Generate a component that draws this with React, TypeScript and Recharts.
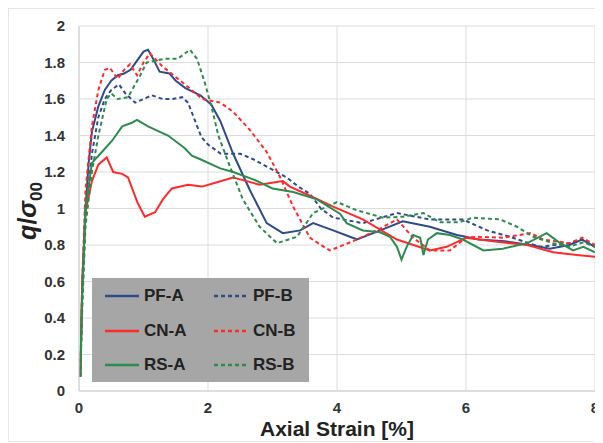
import { LineChart, Line, XAxis, YAxis, CartesianGrid } from "recharts";

// strain [%], q / sigma00
const pfA = [
  [0.02, 0.08], [0.05, 0.55], [0.1, 1.0], [0.15, 1.25], [0.2, 1.42], [0.3, 1.56], [0.4, 1.65], [0.5, 1.7],
  [0.6, 1.73], [0.7, 1.74], [0.8, 1.76], [0.9, 1.81], [1.0, 1.86], [1.07, 1.87], [1.15, 1.82], [1.25, 1.75],
  [1.4, 1.74], [1.5, 1.7], [1.65, 1.66], [1.88, 1.62], [2.05, 1.57], [2.19, 1.48], [2.39, 1.3], [2.65, 1.1],
  [2.91, 0.92], [3.16, 0.865], [3.43, 0.88], [3.63, 0.92], [3.94, 0.88], [4.2, 0.845], [4.31, 0.83],
  [4.67, 0.88], [5.02, 0.93], [5.44, 0.9], [5.86, 0.855], [6.2, 0.83], [6.6, 0.82], [7.0, 0.8], [7.3, 0.78],
  [7.6, 0.8], [7.8, 0.83], [8.0, 0.79],
];
const pfB = [
  [0.02, 0.08], [0.05, 0.5], [0.1, 0.95], [0.2, 1.3], [0.3, 1.5], [0.4, 1.6], [0.5, 1.65], [0.62, 1.68],
  [0.72, 1.63], [0.87, 1.58], [1.0, 1.6], [1.13, 1.62], [1.3, 1.6], [1.45, 1.6], [1.6, 1.61], [1.69, 1.58],
  [1.8, 1.48], [1.9, 1.39], [2.0, 1.35], [2.2, 1.3], [2.5, 1.3], [2.7, 1.27], [2.91, 1.23], [3.22, 1.17],
  [3.4, 1.12], [3.58, 1.08], [3.75, 1.0], [3.94, 0.95], [4.4, 0.92], [4.93, 0.975], [5.44, 0.94],
  [5.95, 0.94], [6.33, 0.88], [6.68, 0.845], [7.15, 0.79], [7.6, 0.81], [7.8, 0.83], [8.0, 0.79],
];
const cnA = [
  [0.02, 0.08], [0.05, 0.6], [0.1, 0.98], [0.2, 1.15], [0.3, 1.24], [0.43, 1.28], [0.53, 1.2], [0.67, 1.19],
  [0.76, 1.17], [0.91, 1.03], [1.02, 0.955], [1.18, 0.98], [1.3, 1.05], [1.44, 1.11], [1.69, 1.13],
  [1.91, 1.12], [2.1, 1.14], [2.39, 1.17], [2.6, 1.15], [2.8, 1.13], [3.16, 1.15], [3.27, 1.12], [3.58, 1.07],
  [3.94, 1.01], [4.4, 0.94], [4.93, 0.83], [5.44, 0.77], [5.7, 0.79], [6.0, 0.84], [6.42, 0.82], [6.95, 0.8],
  [7.35, 0.76], [7.72, 0.745], [8.0, 0.735],
];
const cnB = [
  [0.02, 0.08], [0.05, 0.6], [0.1, 1.1], [0.2, 1.45], [0.3, 1.65], [0.4, 1.76], [0.48, 1.77], [0.6, 1.71],
  [0.7, 1.76], [0.79, 1.79], [0.9, 1.73], [1.0, 1.8], [1.1, 1.85], [1.29, 1.78], [1.64, 1.68], [1.91, 1.6],
  [2.19, 1.58], [2.39, 1.53], [2.65, 1.43], [2.91, 1.31], [3.12, 1.17], [3.32, 1.01], [3.58, 0.84],
  [3.84, 0.78], [3.89, 0.77], [4.31, 0.83], [4.67, 0.89], [4.93, 0.94], [5.18, 0.84], [5.44, 0.77],
  [5.75, 0.77], [6.0, 0.84], [6.17, 0.845], [6.57, 0.84], [7.0, 0.865], [7.2, 0.83], [7.6, 0.81],
  [7.8, 0.84], [8.0, 0.8],
];
const rsA = [
  [0.02, 0.08], [0.05, 0.55], [0.1, 1.0], [0.2, 1.25], [0.33, 1.3], [0.51, 1.37], [0.67, 1.45], [0.82, 1.47],
  [0.9, 1.485], [1.07, 1.45], [1.38, 1.4], [1.64, 1.33], [1.75, 1.29], [1.88, 1.27], [2.19, 1.22], [2.39, 1.2],
  [2.7, 1.16], [3.0, 1.11], [3.32, 1.09], [3.69, 1.05], [4.05, 0.97], [4.15, 0.92], [4.4, 0.88], [4.67, 0.87],
  [4.82, 0.845], [4.93, 0.79], [5.0, 0.72], [5.08, 0.79], [5.18, 0.855], [5.29, 0.84], [5.34, 0.745],
  [5.41, 0.83], [5.55, 0.865], [5.75, 0.855], [5.95, 0.83], [6.27, 0.77], [6.57, 0.78], [6.95, 0.81],
  [7.25, 0.865], [7.46, 0.81], [7.66, 0.77], [7.82, 0.79], [8.0, 0.76],
];
const rsB = [
  [0.02, 0.08], [0.05, 0.45], [0.1, 0.9], [0.2, 1.2], [0.3, 1.4], [0.43, 1.6], [0.5, 1.63], [0.6, 1.6],
  [0.76, 1.61], [0.95, 1.73], [1.05, 1.8], [1.33, 1.82], [1.53, 1.82], [1.72, 1.87], [1.83, 1.82],
  [1.95, 1.69], [2.06, 1.55], [2.16, 1.4], [2.34, 1.23], [2.54, 1.05], [2.8, 0.9], [3.07, 0.81],
  [3.38, 0.845], [3.63, 0.975], [4.0, 1.035], [4.31, 0.99], [4.71, 0.95], [5.02, 0.955], [5.34, 0.975],
  [5.6, 0.925], [5.9, 0.925], [6.11, 0.95], [6.53, 0.94], [6.79, 0.9], [7.04, 0.845], [7.35, 0.81],
  [7.6, 0.79], [7.82, 0.815], [8.0, 0.79],
];

const xTicks = [0, 2, 4, 6, 8];
const yTicks = [0, 0.2, 0.4, 0.6, 0.8, 1, 1.2, 1.4, 1.6, 1.8, 2];

const BLUE = "#2f4b8c";
const RED = "#ff2a2a";
const GREEN = "#2e8b4e";
const DASH = "4 3";

const series = [
  { name: "PF-A", data: pfA, color: BLUE, dashed: false },
  { name: "PF-B", data: pfB, color: BLUE, dashed: true },
  { name: "CN-A", data: cnA, color: RED, dashed: false },
  { name: "CN-B", data: cnB, color: RED, dashed: true },
  { name: "RS-A", data: rsA, color: GREEN, dashed: false },
  { name: "RS-B", data: rsB, color: GREEN, dashed: true },
];

const FONT = "'Liberation Sans', Arial, sans-serif";

const toRows = (pts: number[][]) => pts.map(([x, y]) => ({ x, y }));

function LegendBox() {
  return (
    <div
      style={{
        position: "absolute",
        left: 84,
        top: 270,
        background: "#a6a6a6",
        width: 217,
        height: 104,
        display: "grid",
        gridTemplateColumns: "109px 108px",
        gridTemplateRows: "35px 35px 34px",
      }}
    >
      {series.map((s) => (
        <div
          key={s.name}
          style={{ display: "flex", alignItems: "center", paddingLeft: 13 }}
        >
          <svg width={34} height={6} style={{ marginRight: 5 }}>
            <line
              x1={0}
              y1={3}
              x2={34}
              y2={3}
              stroke={s.color}
              strokeWidth={2.5}
              strokeDasharray={s.dashed ? DASH : undefined}
            />
          </svg>
          <span
            style={{
              fontFamily: FONT,
              fontWeight: "bold",
              fontSize: 17,
              color: "#222",
            }}
          >
            {s.name}
          </span>
        </div>
      ))}
    </div>
  );
}

export default function App() {
  return (
    <div style={{ position: "relative", width: 594, height: 434, background: "#fff" }}>
      <LineChart
        width={594}
        height={434}
        margin={{ top: 18, right: 7, bottom: 19, left: 31 }}
        style={{ fontFamily: FONT }}
      >
        <CartesianGrid stroke="#dcdcdc" strokeWidth={1} />
        <XAxis
          type="number"
          dataKey="x"
          domain={[0, 8]}
          ticks={xTicks}
          axisLine={{ stroke: "#d0d0d0" }}
          tickLine={false}
          tickMargin={5}
          height={32}
          tick={{ fill: "#333", fontSize: 15, fontWeight: "bold" }}
          label={{
            value: "Axial Strain [%]",
            position: "insideBottom",
            offset: -13,
            fill: "#222",
            fontSize: 21,
            fontWeight: "bold",
          }}
        />
        <YAxis
          type="number"
          domain={[0, 2]}
          ticks={yTicks}
          width={40}
          axisLine={{ stroke: "#d0d0d0" }}
          tickLine={false}
          tickMargin={8}
          tick={{ fill: "#333", fontSize: 15, fontWeight: "bold" }}
          tickFormatter={(v: number) => String(Number(v.toFixed(1)))}
        />
        {series.map((s) => (
          <Line
            key={s.name}
            name={s.name}
            data={toRows(s.data)}
            dataKey="y"
            type="linear"
            stroke={s.color}
            strokeWidth={2}
            strokeDasharray={s.dashed ? DASH : undefined}
            dot={false}
            activeDot={false}
            isAnimationActive={false}
          />
        ))}
      </LineChart>
      <LegendBox />
      <div
        style={{
          position: "absolute",
          left: 22,
          top: 203,
          transform: "translate(-50%, -50%) rotate(-90deg)",
          whiteSpace: "nowrap",
          fontFamily: FONT,
          fontWeight: "bold",
          fontSize: 25,
          color: "#222",
        }}
      >
        <i>q</i>/<i>σ</i>
        <sub style={{ fontSize: 17, fontStyle: "normal" }}>00</sub>
      </div>
      <div
        style={{
          position: "absolute",
          inset: 0,
          border: "1px solid #e6e6e6",
          pointerEvents: "none",
        }}
      />
    </div>
  );
}
